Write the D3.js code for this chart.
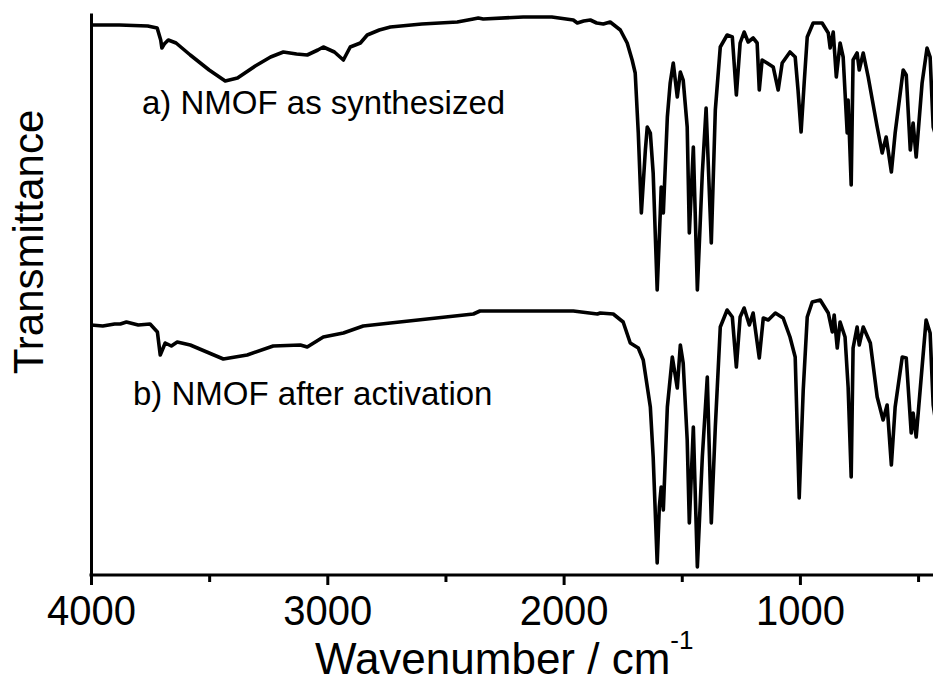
<!DOCTYPE html>
<html lang="en">
<head>
    <meta charset="UTF-8">
    <title>FTIR NMOF</title>
    <script src="https://cdn.jsdelivr.net/npm/d3@7"></script>
    <style>
        body { margin: 0; background: #fff; }
        text { font-family: "Liberation Sans", Arial, sans-serif; fill: #000; }
        .axis path, .axis line { stroke: #000; stroke-width: 3px; }
        .spec { fill: none; stroke: #000; stroke-width: 3.6px; stroke-linejoin: round; }
    </style>
</head>
<body>
<script>
    // wavenumber (cm-1) and transmittance (a.u.)
    var waveA = [4000, 3880, 3760, 3720, 3705, 3700, 3690, 3673, 3640, 3580, 3500, 3432, 3380, 3305, 3240, 3186, 3130, 3085,
        3040, 3017, 2970, 2932, 2903, 2860, 2831, 2780, 2733, 2600, 2450, 2382, 2361, 2340, 2171, 2050, 1959, 1942, 1915,
        1887, 1860, 1832, 1803, 1760, 1731, 1710, 1697, 1684, 1671, 1654, 1646, 1633, 1621, 1604, 1591, 1587, 1578, 1561,
        1549, 1536, 1519, 1506, 1494, 1477, 1468, 1451, 1434, 1413, 1397, 1375, 1358, 1337, 1308, 1286, 1269, 1253, 1236,
        1219, 1198, 1181, 1172, 1160, 1139, 1113, 1092, 1075, 1042, 1020, 1008, 995, 982, 969, 944, 906, 880, 872, 859,
        846, 830, 817, 800, 796, 783, 775, 758, 749, 732, 711, 673, 652, 635, 613, 597, 563, 550, 533, 521, 508, 483, 462,
        449, 436, 420];
    var transA = [550, 550, 549, 547, 535, 527, 531, 535, 532, 520, 505, 494, 497, 509, 518, 523, 521, 520,
        525, 528, 523, 515, 528, 532, 540, 545, 548, 551, 553, 556, 557, 556, 558, 558, 555, 552, 554,
        555, 552, 551, 553, 545, 532, 515, 502, 442, 362, 425, 448, 442, 402, 285, 362, 388, 362, 458,
        492, 512, 478, 503, 495, 448, 342, 428, 285, 402, 467, 332, 465, 528, 540, 538, 480, 532, 543,
        533, 537, 532, 485, 515, 512, 508, 485, 512, 523, 518, 485, 443, 492, 538, 552, 552, 542, 527, 543,
        498, 532, 518, 442, 475, 390, 515, 522, 505, 522, 498, 448, 422, 438, 403, 442, 505, 500, 425, 452, 418, 492, 527,
        518, 448, 435];

    var waveB = [4000, 3950, 3900, 3876, 3850, 3800, 3750, 3719, 3707, 3686, 3660, 3635, 3580, 3440, 3339, 3229, 3114, 3085,
        3017, 2932, 2848, 2733, 2382, 2354, 2171, 1959, 1857, 1845, 1790, 1748, 1718, 1684, 1663, 1633, 1621, 1604,
        1595, 1587, 1578, 1561, 1540, 1519, 1506, 1494, 1477, 1468, 1451, 1434, 1413, 1392, 1375, 1358, 1337, 1308,
        1286, 1269, 1253, 1236, 1214, 1198, 1172, 1155, 1134, 1104, 1071, 1042, 1020, 1003, 986, 969, 948, 914, 880,
        863, 855, 842, 830, 809, 796, 783, 775, 758, 749, 732, 702, 673, 648, 631, 613, 597, 567, 550, 529, 521, 508,
        483, 466, 449, 436, 420];
    var transB = [250, 249, 251, 251, 253, 250, 251, 243, 220, 232, 229, 233, 230, 216, 220, 229, 230, 228,
        238, 242, 249, 252, 261, 264, 264, 264, 261, 262, 261, 253, 232, 227, 215, 168, 118, 12,
        68, 88, 65, 168, 218, 187, 230, 212, 135, 52, 148, 8, 118, 198, 52, 148, 248, 265,
        258, 208, 258, 267, 250, 262, 217, 257, 255, 262, 257, 238, 218, 77, 185, 258, 273, 275, 262,
        243, 260, 227, 253, 238, 188, 98, 227, 248, 230, 248, 232, 178, 155, 170, 110, 168, 218, 217, 142, 162, 138,
        208, 255, 242, 170, 145];

    var majorTicks = [4000, 3000, 2000, 1000];
    var minorTicks = [3500, 2500, 1500, 500];
    var labelA = "a) NMOF as synthesized";
    var labelB = "b) NMOF after activation";

    var width = 933;
    var height = 682;

    var svg = d3.select("body")
            .append("svg")
            .attr("width", width)
            .attr("height", height);

    var x = d3.scaleLinear().domain([4000, 400]).range([91, 941.7]);
    var y = d3.scaleLinear().domain([0, 562]).range([575, 13]);

    svg.append("defs").append("clipPath")
            .attr("id", "plot")
            .append("rect")
            .attr("x", 91).attr("y", 0)
            .attr("width", width - 91).attr("height", 576);

    // spectra
    var line = d3.line()
            .x(function (d) { return x(d[0]); })
            .y(function (d) { return y(d[1]); });

    [[waveA, transA], [waveB, transB]].forEach(function (s) {
        svg.append("path")
                .datum(d3.zip(s[0], s[1]))
                .attr("class", "spec")
                .attr("clip-path", "url(#plot)")
                .attr("d", line);
    });

    // bottom axis, major ticks with labels
    var gx = svg.append("g")
            .attr("class", "axis")
            .attr("transform", "translate(0," + y(0) + ")")
            .call(d3.axisBottom(x).tickValues(majorTicks).tickSize(10).tickSizeOuter(0).tickFormat(d3.format("d")));
    gx.select(".domain").remove();
    gx.selectAll("text")
            .attr("y", 50)
            .attr("dy", 0)
            .attr("transform", "scale(0.93,1)")
            .style("font-size", "43px");

    // minor ticks
    var gm = svg.append("g")
            .attr("class", "axis")
            .attr("transform", "translate(0," + y(0) + ")")
            .call(d3.axisBottom(x).tickValues(minorTicks).tickSize(7).tickFormat(""));
    gm.select(".domain").remove();

    svg.append("line")
            .attr("x1", 89.5).attr("x2", width)
            .attr("y1", y(0)).attr("y2", y(0))
            .attr("stroke", "#000").attr("stroke-width", 3);

    // left axis, no ticks
    svg.append("g")
            .attr("class", "axis")
            .attr("transform", "translate(91,0)")
            .call(d3.axisLeft(y).tickValues([]).tickSizeOuter(0));

    // titles
    var xt = svg.append("text")
            .attr("x", 315)
            .attr("y", 674)
            .style("font-size", "44px")
            .text("Wavenumber / cm");
    xt.append("tspan")
            .attr("dy", -25)
            .style("font-size", "26px")
            .text("-1");

    svg.append("text")
            .attr("transform", "translate(43,242) rotate(-90)")
            .attr("text-anchor", "middle")
            .style("font-size", "42px")
            .text("Transmittance");

    svg.append("text")
            .attr("x", 142)
            .attr("y", 114)
            .style("font-size", "33px")
            .text(labelA);

    svg.append("text")
            .attr("x", 133)
            .attr("y", 405)
            .style("font-size", "33px")
            .text(labelB);
</script>
</body>
</html>
